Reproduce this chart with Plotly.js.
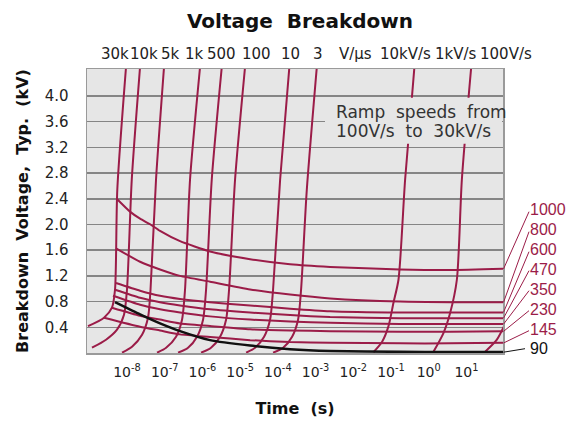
<!DOCTYPE html>
<html>
<head>
<meta charset="utf-8">
<script src="https://cdn.plot.ly/plotly-3.0.1.min.js"></script>
<style>html,body{margin:0;padding:0;background:#fff;}#chart{width:566px;height:422px;}</style>
</head>
<body>
<div id="chart"></div>
<script>
// ---------- data (time in s, voltage in kV) ----------
const xTickVals = [1e-8, 1e-7, 1e-6, 1e-5, 1e-4, 1e-3, 1e-2, 1e-1, 1, 10];
const xTickText = ['10<sup>-8</sup>','10<sup>-7</sup>','10<sup>-6</sup>','10<sup>-5</sup>','10<sup>-4</sup>','10<sup>-3</sup>','10<sup>-2</sup>','10<sup>-1</sup>','10<sup>0</sup>','10<sup>1</sup>'];
const yTickVals = [0.4, 0.8, 1.2, 1.6, 2.0, 2.4, 2.8, 3.2, 3.6, 4.0];
const yTickText = ['0.4','0.8','1.2','1.6','2.0','2.4','2.8','3.2','3.6','4.0'];

// ramp-speed lines
const ramp30kT  = [9.43e-9, 5.54e-9, 4.82e-9, 4.0e-9, 2.46e-9, 9.26e-10];
const ramp30kV  = [4.45, 2.54, 0.985, 0.705, 0.549, 0.417];
const ramp10kT  = [2.22e-8, 1.34e-8, 1.0e-8, 8.34e-9, 5.44e-9, 2.78e-9, 1.18e-9];
const ramp10kV  = [4.45, 2.70, 0.985, 0.596, 0.363, 0.207, 0.082];
const ramp5kT   = [9.6e-8, 5.89e-8, 4.21e-8, 3.61e-8, 2.51e-8, 1.36e-8, 7.39e-9];
const ramp5kV   = [4.45, 2.70, 0.985, 0.549, 0.285, 0.098, 0.005];
const ramp1kT   = [8.66e-7, 4.70e-7, 3.46e-7, 2.88e-7, 2.0e-7, 1.09e-7, 6.26e-8];
const ramp1kV   = [4.45, 2.70, 0.985, 0.518, 0.254, 0.082, 0.005];
const ramp500T  = [3.26e-6, 1.77e-6, 1.25e-6, 1.04e-6, 7.21e-7, 4.16e-7, 2.26e-7];
const ramp500V  = [4.45, 2.70, 0.985, 0.518, 0.254, 0.082, 0.005];
const ramp100T  = [1.35e-5, 7.34e-6, 5.09e-6, 4.24e-6, 2.94e-6, 1.69e-6, 9.2e-7];
const ramp100V  = [4.45, 2.70, 0.985, 0.518, 0.254, 0.082, 0.005];
const ramp10T   = [2.02e-4, 1.15e-4, 7.47e-5, 6.22e-5, 4.32e-5, 2.49e-5, 1.44e-5];
const ramp10V   = [4.45, 2.70, 0.985, 0.518, 0.254, 0.082, 0.005];
const ramp3T    = [1.08e-3, 5.86e-4, 4.13e-4, 3.44e-4, 2.39e-4, 1.38e-4, 7.47e-5];
const ramp3V    = [4.45, 2.54, 0.985, 0.518, 0.254, 0.082, 0.005];
const ramp10kVsT = [0.418, 0.237, 0.158, 0.116, 0.0855, 0.0582, 0.0342];
const ramp10kVsV = [4.45, 2.70, 1.14, 0.778, 0.414, 0.176, 0.012];
const ramp1kVsT  = [13.4, 7.57, 5.58, 3.70, 2.46, 1.336];
const ramp1kVsV  = [4.45, 2.70, 1.14, 0.623, 0.311, 0.02];
const ramp100VsT = [113, 64.2, 31.4];
const ramp100VsV = [0.487, 0.207, 0.02];

// breakdown curves (device rating labels)
const bdLabels = ['1000','800','600','470','350','230','145','90'];
const bd1000T = [5.34e-9, 1.2e-8, 2.22e-8, 4.2e-8, 7.52e-8, 2.55e-7, 1.59e-6, 1.84e-5, 2.11e-4, 2.43e-3, 0.175, 3.70, 100];
const bd1000V = [2.40, 2.20, 2.09, 2.00, 1.90, 1.74, 1.58, 1.46, 1.38, 1.34, 1.30, 1.29, 1.31];
const bd800T  = [5.12e-9, 2.22e-8, 7.52e-8, 2.55e-7, 1.59e-6, 1.84e-5, 2.11e-4, 2.43e-3, 0.175, 3.70, 100];
const bd800V  = [1.63, 1.42, 1.30, 1.20, 1.11, 0.99, 0.91, 0.85, 0.80, 0.79, 0.79];
const bd600T  = [5.12e-9, 2.22e-8, 7.52e-8, 2.55e-7, 1.59e-6, 1.84e-5, 2.11e-4, 2.43e-3, 0.175, 3.70, 100];
const bd600V  = [1.09, 0.97, 0.89, 0.84, 0.79, 0.74, 0.69, 0.65, 0.63, 0.63, 0.63];
const bd470T  = [4.82e-9, 2.22e-8, 7.52e-8, 2.55e-7, 1.59e-6, 1.84e-5, 2.11e-4, 2.43e-3, 0.175, 3.70, 100];
const bd470V  = [0.985, 0.86, 0.79, 0.74, 0.68, 0.63, 0.59, 0.56, 0.54, 0.54, 0.54];
const bd350T  = [4.26e-9, 2.22e-8, 7.52e-8, 2.55e-7, 1.59e-6, 1.84e-5, 2.11e-4, 2.43e-3, 0.175, 3.70, 100];
const bd350V  = [0.89, 0.75, 0.68, 0.63, 0.57, 0.52, 0.49, 0.47, 0.45, 0.45, 0.45];
const bd230T  = [4.0e-9, 2.22e-8, 7.52e-8, 2.55e-7, 1.59e-6, 1.84e-5, 2.11e-4, 2.43e-3, 0.175, 3.70, 100];
const bd230V  = [0.705, 0.58, 0.52, 0.46, 0.42, 0.37, 0.35, 0.34, 0.33, 0.33, 0.34];
const bd145T  = [2.46e-9, 2.22e-8, 7.52e-8, 2.55e-7, 1.59e-6, 1.84e-5, 2.11e-4, 2.43e-3, 0.175, 3.70, 100];
const bd145V  = [0.55, 0.41, 0.35, 0.29, 0.25, 0.20, 0.17, 0.16, 0.15, 0.15, 0.16];
const bd90T   = [4.82e-9, 2.22e-8, 7.52e-8, 2.55e-7, 1.59e-6, 1.84e-5, 2.11e-4, 2.43e-3, 0.175, 3.70, 100];
const bd90V   = [0.79, 0.60, 0.46, 0.34, 0.20, 0.115, 0.058, 0.03, 0.018, 0.016, 0.016];

const rampLabels = ['30k','10k','5k','1k','500','100','10','3','V/\u00b5s','10kV/s','1kV/s','100V/s'];

// ---------- styling / layout ----------
const MAROON = '#9b1c48';
const FONT = 'DejaVu Sans, Verdana, sans-serif';

const ramps = [
  [ramp30kT, ramp30kV],[ramp10kT, ramp10kV],[ramp5kT, ramp5kV],[ramp1kT, ramp1kV],
  [ramp500T, ramp500V],[ramp100T, ramp100V],[ramp10T, ramp10V],[ramp3T, ramp3V],
  [ramp10kVsT, ramp10kVsV],[ramp1kVsT, ramp1kVsV],[ramp100VsT, ramp100VsV]
];
const curves = [
  [bd1000T, bd1000V],[bd800T, bd800V],[bd600T, bd600V],[bd470T, bd470V],
  [bd350T, bd350V],[bd230T, bd230V],[bd145T, bd145V],[bd90T, bd90V]
];

const traces = [];
ramps.forEach(r => traces.push({x: r[0], y: r[1], type: 'scatter', mode: 'lines',
  line: {color: MAROON, width: 2, shape: 'spline', smoothing: 0.7}, hoverinfo: 'skip', showlegend: false}));
curves.forEach((c, i) => traces.push({x: c[0], y: c[1], type: 'scatter', mode: 'lines',
  line: {color: i === curves.length - 1 ? '#111' : MAROON, width: i === curves.length - 1 ? 2.5 : 2, shape: 'spline', smoothing: 0.55},
  hoverinfo: 'skip', showlegend: false}));

// plot geometry helpers (paper coords)
const PL = 87, PW = 416, PB = 353.3, PH = 284;
const px2p = px => (px - PL) / PW;
const py2p = py => (PB - py) / PH;

const annotations = [];
const topLabelX = [115, 144, 170, 194, 221.7, 256, 290, 317.7, 355.5, 405, 455.5, 506];
rampLabels.forEach((t, i) => annotations.push({text: t, xref: 'paper', yref: 'paper',
  x: px2p(topLabelX[i]), y: py2p(54), xanchor: 'center', yanchor: 'middle', showarrow: false,
  font: {family: FONT, size: 15, color: '#222'}}));

const rightLabelY = [210, 230, 250, 269.5, 290, 309.5, 330, 349];
bdLabels.forEach((t, i) => annotations.push({text: t, xref: 'paper', yref: 'paper',
  x: px2p(528), y: py2p(rightLabelY[i]), xanchor: 'left', yanchor: 'middle', showarrow: false,
  font: {family: 'Liberation Sans, Arial, sans-serif', size: 16, color: i === bdLabels.length - 1 ? '#111' : MAROON}}));

annotations.push({text: 'Ramp\u00a0\u00a0speeds\u00a0\u00a0from', xref: 'paper', yref: 'paper', x: px2p(334), y: py2p(112),
  xanchor: 'left', yanchor: 'middle', showarrow: false, font: {family: FONT, size: 17, color: '#333'}});
annotations.push({text: '100V/s\u00a0\u00a0to\u00a0\u00a030kV/s', xref: 'paper', yref: 'paper', x: px2p(334), y: py2p(131),
  xanchor: 'left', yanchor: 'middle', showarrow: false, font: {family: FONT, size: 17, color: '#333'}});

const shapes = [];
shapes.push({type: 'rect', xref: 'paper', yref: 'paper', x0: px2p(325), x1: px2p(502), y0: py2p(144), y1: py2p(98),
  fillcolor: '#e6e6e6', line: {width: 0}, layer: 'above'});
const leaderStart = [269.3, 302.7, 312.7, 318.5, 324.5, 331.7, 343.3, 352.5];
const leaderEnd = [212, 232, 252, 271, 291, 311, 331, 349];
leaderStart.forEach((ys, i) => shapes.push({type: 'line', xref: 'paper', yref: 'paper',
  x0: px2p(503.5), y0: py2p(ys), x1: px2p(i === 7 ? 525 : 529), y1: py2p(leaderEnd[i]),
  line: {color: i === 7 ? '#111' : MAROON, width: 1}, layer: 'above'}));

const layout = {
  width: 566, height: 422,
  margin: {l: 87, r: 63, t: 69, b: 69, pad: 0},
  paper_bgcolor: '#ffffff', plot_bgcolor: '#e6e6e6',
  title: {text: 'Voltage\u00a0\u00a0Breakdown', xref: 'container', yref: 'container', x: 0.53, xanchor: 'center', y: 0.95, yanchor: 'middle',
    font: {family: FONT, size: 20, weight: 'bold', color: '#111'}},
  xaxis: {type: 'log', range: [-9.06, 1.97], tickvals: xTickVals, ticktext: xTickText,
    showgrid: false, zeroline: false, showline: true, mirror: true, linecolor: '#9a9a9a', linewidth: 1.5,
    ticks: '', ticklabelstandoff: 6, tickfont: {family: FONT, size: 14, color: '#222'},
    title: {text: 'Time\u00a0\u00a0(s)', standoff: 23, font: {family: FONT, size: 16, weight: 'bold', color: '#111'}}},
  yaxis: {range: [0, 4.42], tickvals: yTickVals, ticktext: yTickText,
    showgrid: true, gridcolor: '#858585', gridwidth: 1.5, zeroline: false,
    showline: true, mirror: true, linecolor: '#9a9a9a', linewidth: 1.5,
    ticks: '', ticklabelstandoff: 14, tickfont: {family: FONT, size: 15, color: '#222'},
    title: {text: 'Breakdown\u00a0\u00a0Voltage,\u00a0\u00a0Typ.\u00a0\u00a0(kV)', standoff: 12, font: {family: FONT, size: 16, weight: 'bold', color: '#111'}}},
  annotations: annotations,
  shapes: shapes
};

Plotly.newPlot('chart', traces, layout, {staticPlot: true, displayModeBar: false});
</script>
</body>
</html>
